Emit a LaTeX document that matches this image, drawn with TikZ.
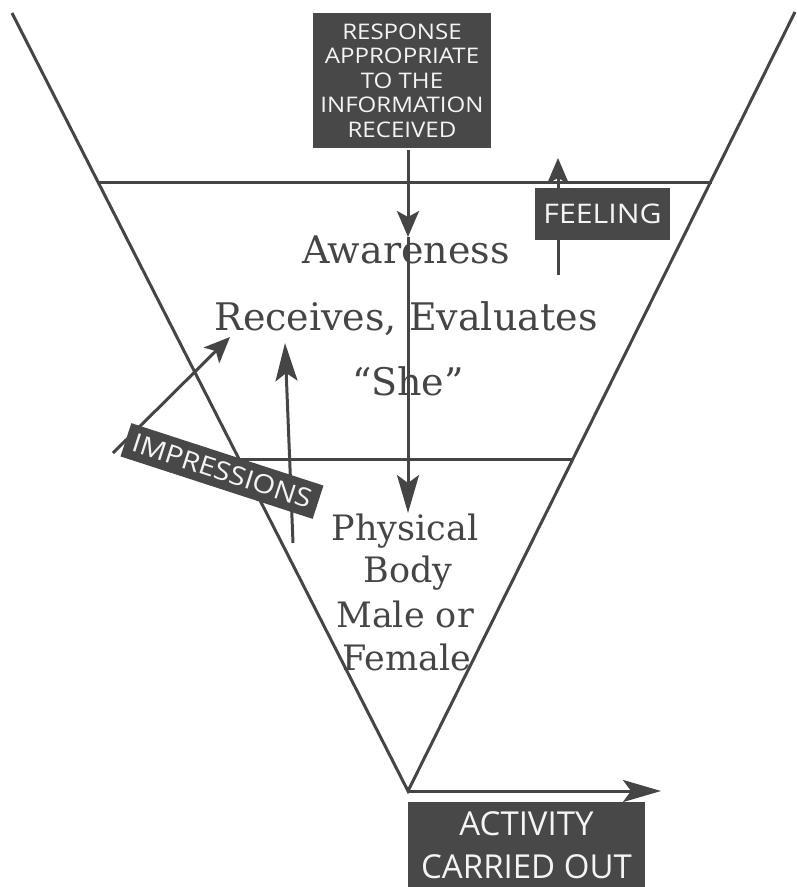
\documentclass[tikz,border=0pt]{standalone}
\usepackage{fontspec}
\setmainfont{DejaVu Serif}
\newfontfamily\labelfont{Open Sans}[FakeStretch=1.12]
\newfontfamily\plainlabel{Open Sans}
\usetikzlibrary{arrows.meta}
\definecolor{inkgray}{HTML}{454545}
\definecolor{boxgray}{HTML}{484848}
\definecolor{papertext}{HTML}{F4F4F4}

\begin{document}
\begin{tikzpicture}[x=1pt,y=-1pt,line width=3pt,color=inkgray,
  darkbox/.style={fill=boxgray,text=papertext,inner sep=0pt,align=center,font=\labelfont},
  pointer/.style={-{Stealth[length=26pt,width=22pt,inset=6pt]}},
  longpointer/.style={-{Stealth[length=38pt,width=22pt,inset=8pt]}},
  bigword/.style={text=inkgray,anchor=base,inner sep=0pt,font=\fontsize{38}{46}\selectfont},
  bodyword/.style={text=inkgray,anchor=base,inner sep=0pt,font=\fontsize{35}{42}\selectfont}]
\useasboundingbox (0,0) rectangle (796,887);

% funnel
\coordinate (topleft) at (12,13);
\coordinate (topright) at (795,12);
\coordinate (apex) at (408,791);
\draw (topleft) -- (apex) -- (topright);
\coordinate (upperL) at (97,182);
\coordinate (upperR) at (712,182);
\coordinate (lowerL) at (239,459);
\coordinate (lowerR) at (573,459);
\draw (upperL) -- (upperR);
\draw (lowerL) -- (lowerR);

% texts inside the funnel
\node[bigword] (awareness) at (406,263) {Awareness};
\node[bigword] (receives) at (406,330) {Receives, Evaluates};
\node[bigword] (she) at (408,395) {``She''};
\node[bodyword] (physical) at (405,540) {Physical};
\node[bodyword] (body) at (408,582) {Body};
\node[bodyword] (male) at (405,627) {Male or};
\node[bodyword] (female) at (407,670) {Female};

% response
\node[darkbox,minimum width=178pt,minimum height=135pt,
  font=\labelfont\fontsize{21.5}{24.5}\selectfont] (response) at (402,80.5)
  {RESPONSE\\APPROPRIATE\\TO THE\\INFORMATION\\RECEIVED};
\coordinate (awareTip) at (408,237);
\coordinate (bodyTip) at (408,513);
\draw[pointer] (response.south -| awareTip) -- (awareTip);
\draw[longpointer] (awareTip) -- (bodyTip);

% feeling
\coordinate (feelFoot) at (558,275);
\coordinate (feelTip) at (558,158);
\draw[pointer] (feelFoot) -- (feelTip);
\node[darkbox,minimum width=135pt,minimum height=52pt,
  font=\labelfont\fontsize{27}{30}\selectfont] (feeling) at (602.5,214) {FEELING};

% impressions
\coordinate (impFootA) at (113,453);
\coordinate (impTipA) at (230,337);
\coordinate (impFootB) at (293,543);
\coordinate (impTipB) at (285,343);
\draw[pointer] (impFootA) -- (impTipA);
\draw[longpointer] (impFootB) -- (impTipB);
\node[darkbox,minimum width=202pt,minimum height=35pt,rotate=-18,
  font=\labelfont\fontsize{26}{30}\selectfont] (impressions) at (222,471) {IMPRESSIONS};

% activity
\node[darkbox,minimum width=237pt,minimum height=86pt,
  font=\plainlabel\fontsize{33}{43}\selectfont] (activity) at (526.5,845)
  {ACTIVITY\\CARRIED OUT};
\coordinate (activityTip) at (661,791);
\draw[longpointer] (apex) -- (activityTip);
\end{tikzpicture}
\end{document}
